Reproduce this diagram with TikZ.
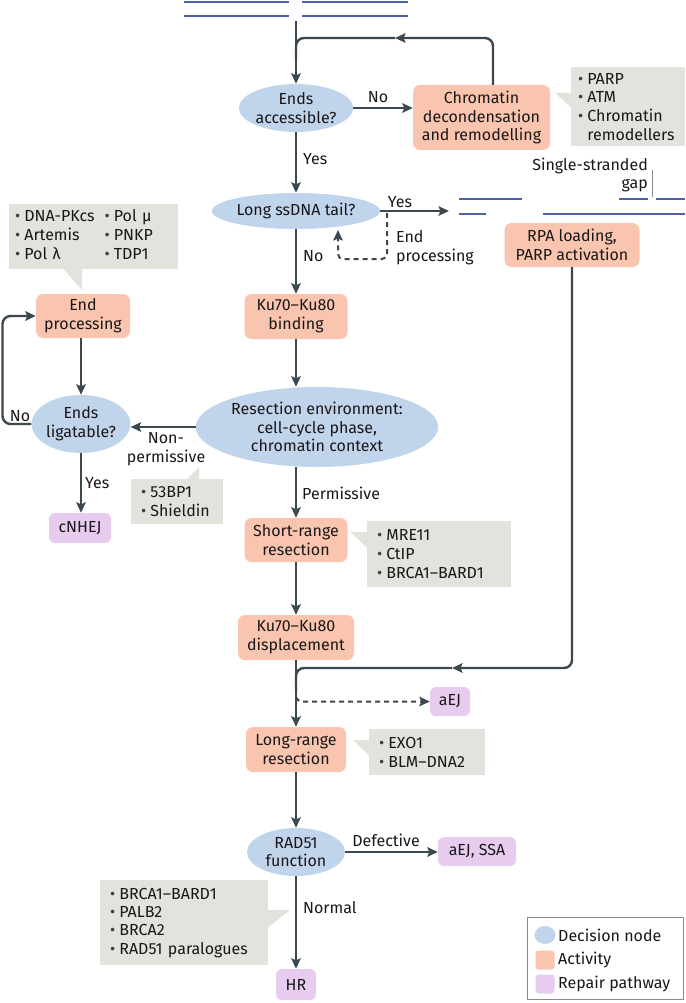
\documentclass[tikz,border=0pt]{standalone}
\usepackage{fontspec}
\setmainfont{Fira Sans}
\usetikzlibrary{shapes.geometric,arrows.meta}
\definecolor{decblue}{HTML}{C0D4EC}
\definecolor{actor}{HTML}{F9C5AF}
\definecolor{reppu}{HTML}{E7CCF0}
\definecolor{callg}{HTML}{E3E2DD}
\definecolor{arrc}{HTML}{3C4850}
\definecolor{dnab}{HTML}{4F62A8}
\definecolor{txtc}{HTML}{1A1718}
\definecolor{bulc}{HTML}{404040}
\definecolor{leggray}{HTML}{8A8A8A}
\newcommand{\bu}{{\color{bulc}\textbullet}\hspace{4pt}}
\begin{document}
\begin{tikzpicture}[x=1pt,y=-1pt,
  every node/.style={text=txtc, font=\fontsize{16}{18.7}\selectfont},
  dec/.style={ellipse, fill=decblue, inner sep=0pt, align=center},
  act/.style={rectangle, rounded corners=7pt, fill=actor, inner sep=0pt, align=center},
  rep/.style={rectangle, rounded corners=6pt, fill=reppu, inner sep=0pt, align=center},
  callout/.style={rectangle, fill=callg, inner ysep=0pt, align=left, anchor=north west},
  conn/.style={draw=arrc, line width=2.4pt, -{Stealth[length=10.5pt,width=9.5pt,inset=2pt]}},
  plain/.style={draw=arrc, line width=2.4pt},
  dashconn/.style={conn, line width=2pt, dash pattern=on 5pt off 4pt},
  dna/.style={draw=dnab, line width=2.8pt},
  lab/.style={inner sep=0pt}
]
\useasboundingbox (0,0) rectangle (685,1003);

% DNA top
\draw[dna] (184,2) -- (289,2);
\draw[dna] (302,2) -- (408,2);
\draw[dna] (184,16) -- (289,16);
\draw[dna] (302,16) -- (408,16);

% DNA right (single-stranded gap)
\draw[dna] (459,199) -- (522,199);
\draw[dna] (619,199) -- (648,199);
\draw[dna] (656,199) -- (685,199);
\draw[dna] (459,214) -- (486,214);
\draw[dna] (543,214) -- (685,214);
\draw[leggray, line width=0.8pt] (652,170) -- (652,197);
\node[lab, anchor=east, align=right] (gaplab) at (648,175) {Single-stranded\\gap};

% nodes
\node[dec, minimum width=112pt, minimum height=48pt] (acc) at (296,108) {Ends\\accessible?};
\node[act, minimum width=137pt, minimum height=65pt] (chrom) at (481.5,117.5) {Chromatin\\decondensation\\and remodelling};
\fill[callg] (555,93) -- (571.5,93) -- (571.5,108) -- cycle;
\node[callout, text width=100pt, inner xsep=7pt, minimum height=79pt] (g1) at (571,67) {\bu PARP\\\bu ATM\\\bu Chromatin\\\phantom{\bu}remodellers};

\node[dec, minimum width=147pt, minimum height=36pt] (ss) at (296,211) {Long ssDNA tail?};
\node[act, minimum width=135pt, minimum height=44pt] (rpa) at (572,245) {RPA loading,\\PARP activation};
\node[act, minimum width=103pt, minimum height=45pt] (kub) at (296,316.5) {Ku70–Ku80\\binding};
\node[dec, minimum width=220pt, minimum height=80pt] (res) at (317,427) {Resection environment:\\cell-cycle phase,\\chromatin context};

\node[dec, minimum width=97pt, minimum height=58pt] (lig) at (81,424) {Ends\\ligatable?};
\node[act, minimum width=94pt, minimum height=44pt] (endp) at (83,316) {End\\processing};
\fill[callg] (63,268.5) -- (82,290) -- (82,268.5) -- cycle;
\node[callout, text width=157pt, inner xsep=6pt, minimum height=65pt] (g2) at (9,204) {\begin{tabular}{@{}l@{\hspace{10pt}}l@{}}\bu DNA-PKcs & \bu Pol μ\\ \bu Artemis & \bu PNKP\\ \bu Pol λ & \bu TDP1\end{tabular}};
\node[rep, minimum width=62pt, minimum height=30pt] (cnhej) at (80,528) {cNHEJ};
\fill[callg] (187,479.5) -- (199,467) -- (199,479.5) -- cycle;
\node[callout, text width=72pt, inner xsep=10pt, minimum height=45pt] (g3) at (131,479) {\bu 53BP1\\\bu Shieldin};

\node[act, minimum width=103pt, minimum height=44pt] (srr) at (296,540) {Short-range\\resection};
\fill[callg] (350,532) -- (367.5,532) -- (367.5,548) -- cycle;
\node[callout, text width=124pt, inner xsep=10pt, minimum height=66pt] (g4) at (367,521) {\bu MRE11\\\bu CtIP\\\bu BRCA1–BARD1};
\node[act, minimum width=116pt, minimum height=45pt] (kud) at (296,637.5) {Ku70–Ku80\\displacement};
\node[rep, minimum width=40pt, minimum height=29pt] (aej) at (450,701.5) {aEJ};
\node[act, minimum width=100pt, minimum height=45pt] (lrr) at (296,749.5) {Long-range\\resection};
\fill[callg] (353,740) -- (369.5,740) -- (369.5,756) -- cycle;
\node[callout, text width=96pt, inner xsep=10pt, minimum height=46pt] (g5) at (369,729) {\bu EXO1\\\bu BLM–DNA2};
\node[dec, minimum width=98pt, minimum height=48pt] (rad) at (296,852) {RAD51\\function};
\node[rep, minimum width=78pt, minimum height=29pt] (aes) at (477,851.5) {aEJ, SSA};
\node[rep, minimum width=40pt, minimum height=31pt] (hr) at (296,984.5) {HR};
\fill[callg] (267.5,910) -- (290,910) -- (267.5,928) -- cycle;
\node[callout, text width=148pt, inner xsep=10pt, minimum height=85pt, font=\fontsize{16}{18.3}\selectfont] (g6) at (100,880) {\bu BRCA1–BARD1\\\bu PALB2\\\bu BRCA2\\\bu RAD51 paralogues};

% connectors
\coordinate (top) at (296,21);
\draw[conn] (top) -- (acc.north);
\draw[conn] (acc.east) -- (acc.east -| chrom.west);
\node[lab] (lno1) at (378,97) {No};
\coordinate (loopa) at (395,38);
\coordinate (loopb) at (296,38);
\coordinate (loopc) at (296,60);
\draw[conn, rounded corners=8pt] ([xshift=11.5pt]chrom.north) |- (loopa);
\draw[plain, rounded corners=8pt] (loopa) -- (loopb) -- (loopc);

\draw[conn] (acc.south) -- (ss.north);
\node[lab, anchor=west] (lyes1) at (303,159) {Yes};
\coordinate (dnaL) at (449,211);
\draw[conn] (ss.east) -- (dnaL);
\node[lab] (lyes2) at (400,202) {Yes};
\coordinate (d1) at (387,213);
\coordinate (d2) at (387,259);
\coordinate (d3) at (338,259);
\coordinate (d4) at (338,230);
\draw[dashconn, rounded corners=5pt] (d1) -- (d2) -- (d3) -- (d4);
\node[lab, anchor=west, align=left] (lendp) at (396,248) {End\\processing};

\draw[conn] (ss.south) -- (kub.north);
\node[lab, anchor=west] (lno2) at (303,256) {No};
\draw[conn] (kub.south) -- (kub.south |- res.north);

\draw[conn] (res.west) -- (res.west -| lig.east);
\node[lab, align=center] (lnonp) at (166,449) {Non-\\permissive};
\draw[conn] (lig.south) -- (lig.south |- cnhej.north);
\node[lab, anchor=west] (lyes3) at (85,483) {Yes};
\coordinate (lp) at (2.5,370);
\draw[conn, rounded corners=8pt] (lig.west) -| (lp) |- (endp.west);
\node[lab] (lno3) at (20,416) {No};
\draw[conn] (endp.south -| lig.north) -- (lig.north);

\draw[conn] (res.south -| srr.north) -- (srr.north);
\node[lab, anchor=west] (lperm) at (302,493) {Permissive};
\draw[conn] (srr.south) -- (kud.north);

\coordinate (m1) at (452,668);
\coordinate (m2) at (296,668);
\coordinate (m3) at (296,690);
\draw[conn, rounded corners=8pt] (rpa.south) |- (m1);
\draw[plain, rounded corners=8pt] (m1) -- (m2) -- (m3);
\coordinate (e1) at (296,688);
\draw[dashconn, rounded corners=6pt] (e1) |- (aej.west);
\draw[conn] (kud.south) -- (lrr.north);

\draw[conn] (lrr.south) -- (rad.north);
\draw[conn] (rad.east) -- (rad.east -| aes.west);
\node[lab] (ldef) at (386,840) {Defective};
\draw[conn] (rad.south) -- (hr.north);
\node[lab, anchor=west] (lnorm) at (303,908) {Normal};

% legend
\draw[leggray, line width=0.8pt] (527,917) rectangle (683,999);
\node[ellipse, fill=decblue, minimum width=21pt, minimum height=18pt, inner sep=0pt] (lk1) at (545,935) {};
\node[rectangle, rounded corners=3pt, fill=actor, minimum size=19pt, inner sep=0pt] (lk2) at (545,960) {};
\node[rectangle, rounded corners=3pt, fill=reppu, minimum size=19pt, inner sep=0pt] (lk3) at (545,984) {};
\node[lab, anchor=west] (lt1) at (558,935) {Decision node};
\node[lab, anchor=west] (lt2) at (558,960) {Activity};
\node[lab, anchor=west] (lt3) at (558,984) {Repair pathway};
\end{tikzpicture}
\end{document}
